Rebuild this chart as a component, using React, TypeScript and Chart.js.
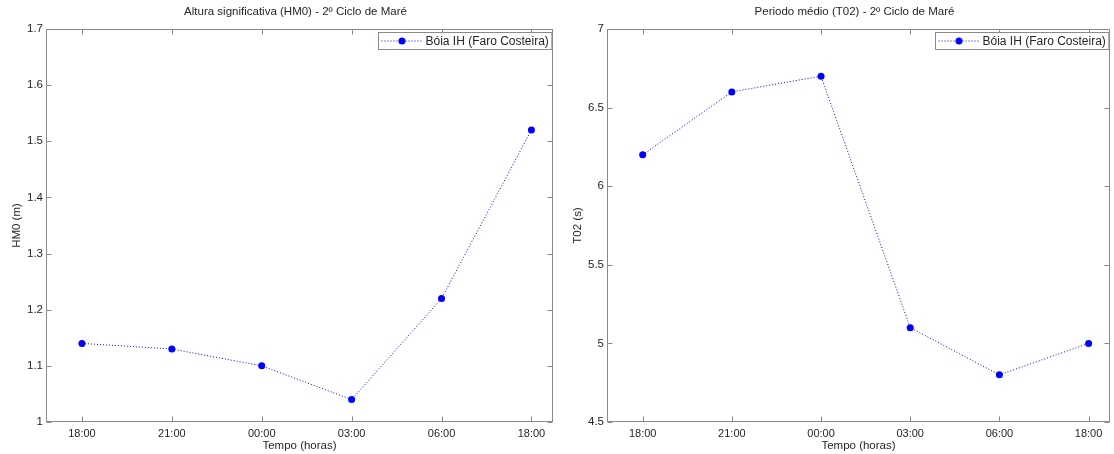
import React, { useEffect, useRef } from "react";
import { Chart, registerables } from "chart.js";

Chart.register(...registerables);

const timeLabels = ["18:00", "21:00", "00:00", "03:00", "06:00", "18:00"];
const hm0Values = [1.14, 1.13, 1.1, 1.04, 1.22, 1.52];
const t02Values = [6.2, 6.6, 6.7, 5.1, 4.8, 5.0];
const seriesLabel = "Bóia IH (Faro Costeira)";
const hm0Title = "Altura significativa (HM0) - 2º Ciclo de Maré";
const t02Title = "Periodo médio (T02) - 2º Ciclo de Maré";
const xAxisTitle = "Tempo (horas)";
const hm0AxisTitle = "HM0 (m)";
const t02AxisTitle = "T02 (s)";
const hm0Ticks = [1, 1.1, 1.2, 1.3, 1.4, 1.5, 1.6, 1.7];
const t02Ticks = [4.5, 5, 5.5, 6, 6.5, 7];

const FONT = "'Liberation Sans', Arial, sans-serif";
const TEXT = "#262626";
const AXIS = "#8a8a8a";
const BLUE = "#0000ff";

type Cfg = {
  values: number[];
  yTicks: number[];
  title: string;
  yTitle: string;
  yWidth: number;
  padRight: number;
  yTitlePad: number;
};

function makeChart(canvas: HTMLCanvasElement, cfg: Cfg) {
  const decor = {
    id: "matlabDecor",
    afterDraw(chart: any) {
      const ctx = chart.ctx as CanvasRenderingContext2D;
      const a = chart.chartArea;
      const xs = chart.scales.x;
      const ys = chart.scales.y;
      const L = Math.round(a.left) + 0.5;
      const R = Math.round(a.right) - 0.5;
      const T = Math.round(a.top) + 0.5;
      const B = Math.round(a.bottom) - 0.5;
      ctx.save();
      ctx.strokeStyle = AXIS;
      ctx.lineWidth = 1;
      ctx.beginPath();
      const tl = 5;
      xs.ticks.forEach((t: any) => {
        const px = Math.round(xs.getPixelForValue(t.value)) + 0.5;
        ctx.moveTo(px, B);
        ctx.lineTo(px, B - tl);
        ctx.moveTo(px, T);
        ctx.lineTo(px, T + tl);
      });
      ys.ticks.forEach((t: any) => {
        const py = Math.round(ys.getPixelForValue(t.value)) + 0.5;
        ctx.moveTo(L, py);
        ctx.lineTo(L + tl, py);
        ctx.moveTo(R, py);
        ctx.lineTo(R - tl, py);
      });
      ctx.stroke();
      ctx.strokeRect(L, T, R - L, B - T);

      // title
      ctx.fillStyle = TEXT;
      ctx.font = `11.5px ${FONT}`;
      ctx.textAlign = "center";
      ctx.textBaseline = "middle";
      ctx.fillText(cfg.title, (a.left + a.right) / 2 - 4, 12);

      // legend
      const ds = chart.data.datasets[0];
      ctx.font = `12px ${FONT}`;
      const tw = ctx.measureText(ds.label).width;
      const sampleW = 46;
      const boxW = sampleW + tw + 4;
      const boxH = 17;
      const bx = Math.round(R - 1 - boxW) + 0.5;
      const by = T + 3;
      ctx.fillStyle = "#ffffff";
      ctx.fillRect(bx, by, boxW, boxH);
      ctx.strokeStyle = AXIS;
      ctx.strokeRect(bx, by, boxW, boxH);
      const cy = by + boxH / 2;
      ctx.strokeStyle = BLUE;
      ctx.setLineDash([1, 2]);
      ctx.beginPath();
      ctx.moveTo(bx + 3, cy);
      ctx.lineTo(bx + sampleW - 2, cy);
      ctx.stroke();
      ctx.setLineDash([]);
      ctx.fillStyle = BLUE;
      ctx.beginPath();
      ctx.arc(bx + 3 + (sampleW - 5) / 2, cy, 3.5, 0, Math.PI * 2);
      ctx.fill();
      ctx.fillStyle = TEXT;
      ctx.textAlign = "left";
      ctx.fillText(ds.label, bx + sampleW + 1, cy + 0.5);
      ctx.restore();
    },
  };

  const yMin = cfg.yTicks[0];
  const yMax = cfg.yTicks[cfg.yTicks.length - 1];

  return new Chart(canvas, {
    type: "line",
    data: {
      datasets: [
        {
          label: seriesLabel,
          data: cfg.values.map((v, i) => ({ x: i + 1, y: v })),
          borderColor: BLUE,
          backgroundColor: BLUE,
          borderWidth: 1,
          borderDash: [1, 2],
          pointRadius: 3.5,
          pointBorderWidth: 0,
          pointBackgroundColor: BLUE,
          tension: 0,
          fill: false,
        },
      ],
    },
    options: {
      animation: false,
      responsive: false,
      devicePixelRatio: 1,
      layout: { padding: { top: 29, right: cfg.padRight, bottom: 0, left: 0 } },
      plugins: {
        legend: { display: false },
        title: { display: false },
        tooltip: { enabled: false },
      },
      scales: {
        x: {
          type: "linear",
          min: 0.6,
          max: 6.24,
          grid: { display: false, drawTicks: false },
          border: { display: false },
          afterBuildTicks: (s: any) => {
            s.ticks = timeLabels.map((_, i) => ({ value: i + 1 }));
          },
          afterFit: (s: any) => {
            s.height = 32;
          },
          ticks: {
            autoSkip: false,
            maxRotation: 0,
            padding: 5,
            color: TEXT,
            font: { family: FONT, size: 11 },
            callback: (v: any) => timeLabels[Math.round(Number(v)) - 1] ?? "",
          },
          title: {
            display: true,
            text: xAxisTitle,
            color: TEXT,
            font: { family: FONT, size: 11.5, lineHeight: 1 },
            padding: { top: 0, bottom: 2 },
          },
        },
        y: {
          type: "linear",
          min: yMin,
          max: yMax,
          grid: { display: false, drawTicks: false },
          border: { display: false },
          afterBuildTicks: (s: any) => {
            s.ticks = cfg.yTicks.map((v) => ({ value: v }));
          },
          afterFit: (s: any) => {
            s.width = cfg.yWidth;
          },
          ticks: {
            autoSkip: false,
            padding: 3,
            color: TEXT,
            font: { family: FONT, size: 11.5 },
            callback: (v: any) => String(Math.round(Number(v) * 10) / 10),
          },
          title: {
            display: true,
            text: cfg.yTitle,
            color: TEXT,
            font: { family: FONT, size: 11.5 },
            padding: { top: cfg.yTitlePad, bottom: 0 },
          },
        },
      },
    },
    plugins: [decor],
  } as any);
}

export default function App() {
  const leftRef = useRef<HTMLCanvasElement>(null);
  const rightRef = useRef<HTMLCanvasElement>(null);

  useEffect(() => {
    const c1 = makeChart(leftRef.current!, {
      values: hm0Values,
      yTicks: hm0Ticks,
      title: hm0Title,
      yTitle: hm0AxisTitle,
      yWidth: 46,
      padRight: 4,
      yTitlePad: 10,
    });
    const c2 = makeChart(rightRef.current!, {
      values: t02Values,
      yTicks: t02Ticks,
      title: t02Title,
      yTitle: t02AxisTitle,
      yWidth: 50,
      padRight: 1,
      yTitlePad: 14,
    });
    return () => {
      c1.destroy();
      c2.destroy();
    };
  }, []);

  return (
    <div
      style={{
        position: "fixed",
        left: 0,
        top: 0,
        width: 1114,
        height: 454,
        background: "#ffffff",
      }}
    >
      <canvas
        ref={leftRef}
        width={557}
        height={454}
        style={{ position: "absolute", left: 0, top: 0, width: 557, height: 454 }}
      />
      <canvas
        ref={rightRef}
        width={557}
        height={454}
        style={{ position: "absolute", left: 557, top: 0, width: 557, height: 454 }}
      />
    </div>
  );
}
